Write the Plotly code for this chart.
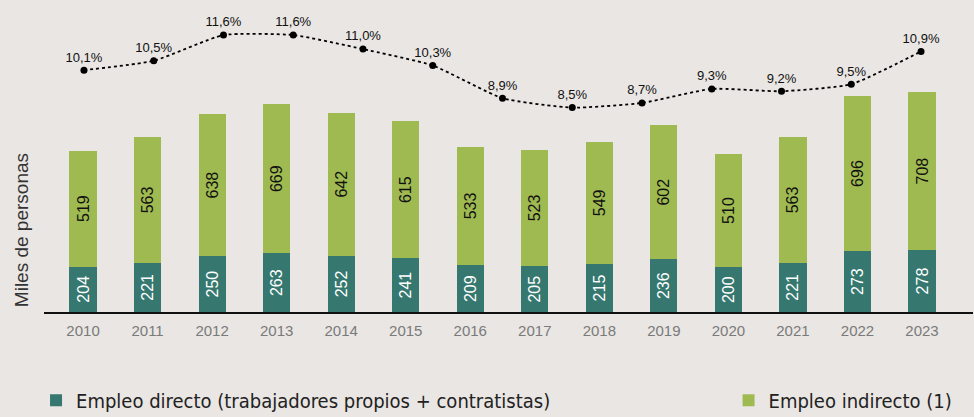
import plotly.graph_objects as go

years = ["2010", "2011", "2012", "2013", "2014", "2015", "2016",
         "2017", "2018", "2019", "2020", "2021", "2022", "2023"]
empleo_directo = [204, 221, 250, 263, 252, 241, 209, 205, 215, 236, 200, 221, 273, 278]
empleo_indirecto = [519, 563, 638, 669, 642, 615, 533, 523, 549, 602, 510, 563, 696, 708]
# the dotted share line in the source has 13 points, spread evenly across the chart
pct_points = list(range(13))
pct_values = [10.1, 10.5, 11.6, 11.6, 11.0, 10.3, 8.9, 8.5, 8.7, 9.3, 9.2, 9.5, 10.9]

BG = "#E9E6E3"
TEAL = "#36786F"
GREEN = "#A0BA52"
LEGEND_FONT = dict(size=20, color="#222222", family="DejaVu Sans Condensed, Liberation Sans")

fig = go.Figure()
fig.add_bar(
    x=list(range(len(years))), y=empleo_directo, name="Empleo directo (trabajadores propios + contratistas)",
    marker=dict(color=TEAL, line=dict(width=0)), legend="legend",
    text=[str(v) for v in empleo_directo], textposition="inside", textangle=-90,
    insidetextanchor="middle", constraintext="none",
    insidetextfont=dict(color="white", size=16, family="Liberation Sans"),
)
fig.add_bar(
    x=list(range(len(years))), y=empleo_indirecto, name="Empleo indirecto (1)",
    marker=dict(color=GREEN, line=dict(width=0)), legend="legend2",
    text=[str(v) for v in empleo_indirecto], textposition="inside", textangle=-90,
    insidetextanchor="middle", constraintext="none",
    insidetextfont=dict(color="#111111", size=16, family="Liberation Sans"),
)
fig.add_scatter(
    x=pct_points, y=pct_values, xaxis="x2", yaxis="y2", mode="lines+markers+text",
    line=dict(color="black", width=1.8, dash="dot", shape="spline", smoothing=0.5),
    marker=dict(color="black", size=7),
    text=[f"{v:.1f}%".replace(".", ",") for v in pct_values],
    textposition="top center", textfont=dict(color="#111111", size=13, family="Liberation Sans"),
    showlegend=False, cliponaxis=False,
)

fig.update_layout(
    width=974, height=417,
    paper_bgcolor=BG, plot_bgcolor=BG,
    margin=dict(l=44, r=1, t=10, b=105, autoexpand=False),
    barmode="stack", bargap=0.58,
    xaxis=dict(range=[-0.605, 13.79], tickmode="array", tickvals=list(range(len(years))),
               ticktext=years, showgrid=False, zeroline=False, showline=True,
               linecolor="#111111", linewidth=1.5, ticks="", ticklabelstandoff=4,
               tickfont=dict(color="#7a7a7a", size=15, family="Liberation Sans")),
    xaxis2=dict(range=[-0.573, 12.745], overlaying="x", visible=False),
    yaxis=dict(range=[0, 1354], visible=False, showgrid=False),
    yaxis2=dict(range=[-0.23, 12.67], overlaying="y", visible=False),
    legend=dict(orientation="h", xref="container", yref="container", x=0.037, y=0.04,
                xanchor="left", yanchor="middle", font=LEGEND_FONT,
                bgcolor="rgba(0,0,0,0)"),
    legend2=dict(orientation="h", xref="container", yref="container", x=0.748, y=0.04,
                 xanchor="left", yanchor="middle", font=LEGEND_FONT,
                 bgcolor="rgba(0,0,0,0)"),
    showlegend=True,
    annotations=[dict(text="Miles de personas", xref="paper", yref="paper", x=-0.024, y=0.27,
                      xanchor="center", yanchor="middle", textangle=-90, showarrow=False,
                      font=dict(size=19, color="#333333", family="Liberation Sans"))],
)

fig.write_html("out.html", config={"displayModeBar": False},
               post_script="document.body.style.margin='0';"
               "document.body.style.background='" + BG + "';")
